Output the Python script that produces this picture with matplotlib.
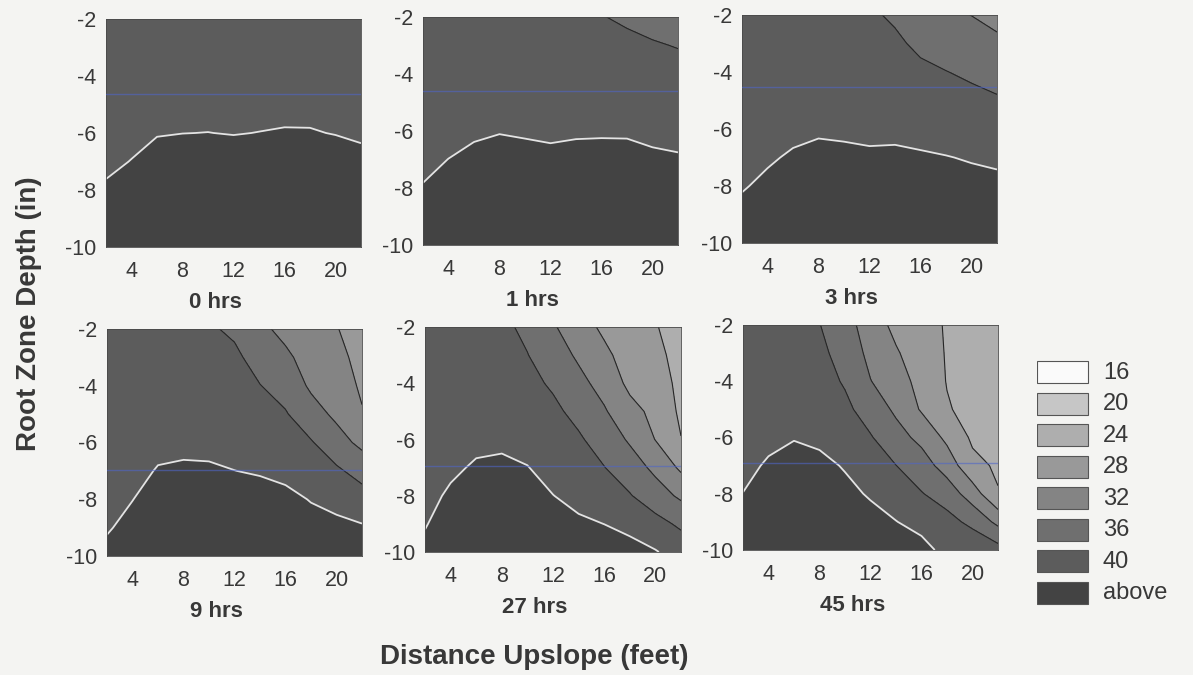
import numpy as np
import matplotlib.pyplot as plt
from matplotlib.patches import Rectangle

plt.rcParams['font.family'] = ['Liberation Sans', 'DejaVu Sans']
plt.rcParams['axes.unicode_minus'] = False

# grid: distance upslope (feet) across, root zone depth (in) down
distance = [2, 4, 6, 8, 10, 12, 14, 16, 18, 20, 22]
depth = [-2, -3, -4, -5, -6, -7, -8, -9, -10]

# contour classes and their grey fills
levels = [0, 16, 20, 24, 28, 32, 36, 40, 60]
level_labels = ['16', '20', '24', '28', '32', '36', '40', 'above']
shades = ['#fafafa', '#c6c6c6', '#aeaeae', '#999999',
          '#848484', '#6f6f6f', '#5c5c5c', '#434343']

# one list per distance column, values from -2 in down to -10 in
hrs_0 = [
    [36.6, 37.2, 37.8, 38.4, 39.0, 39.6, 40.25, 41.4, 42.4],
    [37.1, 37.7, 38.3, 38.9, 39.5, 40.05, 41.1, 42.1, 43.1],
    [37.5, 38.1, 38.7, 39.3, 39.9, 40.65, 41.7, 42.7, 43.7],
    [37.6, 38.2, 38.8, 39.4, 39.98, 41.0, 42.0, 43.0, 44.0],
    [37.6, 38.2, 38.8, 39.4, 40.02, 41.0, 42.0, 43.0, 44.0],
    [37.6, 38.2, 38.8, 39.4, 39.93, 40.9, 41.9, 42.9, 43.9],
    [37.6, 38.2, 38.8, 39.4, 40.03, 41.0, 42.0, 43.0, 44.0],
    [37.8, 38.4, 39.0, 39.6, 40.1, 41.1, 42.1, 43.1, 44.1],
    [37.8, 38.4, 39.0, 39.55, 40.1, 41.1, 42.1, 43.1, 44.1],
    [37.5, 38.1, 38.7, 39.3, 39.94, 40.8, 41.8, 42.8, 43.8],
    [37.4, 38.0, 38.6, 39.2, 39.75, 40.45, 41.45, 42.45, 43.45],
]
hrs_1 = [
    [37.0, 37.5, 38.0, 38.5, 39.0, 39.55, 40.1, 41.1, 42.1],
    [37.2, 37.7, 38.3, 38.9, 39.4, 40.02, 41.0, 42.0, 43.0],
    [37.3, 37.9, 38.5, 39.1, 39.75, 40.4, 41.4, 42.4, 43.4],
    [37.4, 38.0, 38.6, 39.2, 39.9, 40.8, 41.8, 42.8, 43.8],
    [37.3, 37.9, 38.5, 39.1, 39.8, 40.55, 41.5, 42.5, 43.5],
    [37.1, 37.7, 38.4, 39.0, 39.7, 40.4, 41.4, 42.4, 43.4],
    [36.6, 37.4, 38.2, 39.0, 39.8, 40.5, 41.5, 42.5, 43.5],
    [36.1, 37.1, 38.0, 38.9, 39.8, 40.6, 41.6, 42.6, 43.6],
    [35.6, 36.6, 37.6, 38.7, 39.8, 40.55, 41.5, 42.5, 43.5],
    [35.2, 36.2, 37.3, 38.5, 39.6, 40.3, 41.3, 42.3, 43.3],
    [35.0, 35.9, 36.8, 38.1, 39.4, 40.2, 41.2, 42.2, 43.2],
]
hrs_3 = [
    [36.3, 36.9, 37.5, 38.1, 38.7, 39.3, 39.8, 40.7, 41.7],
    [36.6, 37.2, 37.8, 38.4, 39.0, 39.7, 40.5, 41.5, 42.5],
    [37.0, 37.6, 38.2, 38.8, 39.4, 40.3, 41.3, 42.3, 43.3],
    [37.2, 37.8, 38.4, 39.0, 39.7, 40.6, 41.6, 42.6, 43.6],
    [37.0, 37.6, 38.2, 38.8, 39.6, 40.5, 41.5, 42.5, 43.5],
    [36.5, 37.2, 37.9, 38.6, 39.55, 40.3, 41.3, 42.3, 43.3],
    [35.5, 36.6, 37.4, 38.2, 39.5, 40.4, 41.4, 42.4, 43.4],
    [33.8, 35.3, 36.7, 37.9, 39.15, 40.3, 41.3, 42.3, 43.3],
    [32.7, 34.4, 36.08, 37.4, 38.75, 40.1, 41.1, 42.1, 43.1],
    [31.95, 33.7, 35.4, 36.93, 38.36, 39.79, 40.85, 41.85, 42.85],
    [30.9, 32.74, 34.6, 36.38, 37.9, 39.42, 40.8, 41.8, 42.8],
]
hrs_9 = [
    [36.2, 36.6, 37.0, 37.5, 38.0, 38.5, 39.0, 39.75, 40.75],
    [36.5, 36.9, 37.4, 37.9, 38.5, 39.1, 39.95, 40.8, 41.7],
    [36.9, 37.4, 37.9, 38.5, 39.2, 40.2, 41.1, 42.0, 43.0],
    [37.0, 37.6, 38.2, 38.8, 39.45, 40.35, 41.3, 42.3, 43.3],
    [36.5, 37.1, 37.8, 38.5, 39.4, 40.3, 41.4, 42.4, 43.4],
    [35.3, 36.8, 37.6, 38.4, 39.2, 40.02, 41.0, 42.0, 43.0],
    [32.8, 34.4, 36.1, 37.2, 38.5, 39.8, 40.9, 41.9, 42.9],
    [31.0, 32.7, 34.5, 36.3, 37.8, 39.2, 40.8, 41.8, 42.8],
    [29.5, 30.5, 31.4, 33.6, 36.3, 38.1, 39.85, 41.1, 42.1],
    [28.2, 29.2, 30.2, 31.2, 33.6, 36.6, 38.8, 41.0, 42.0],
    [26.0, 26.7, 27.4, 28.3, 31.0, 34.6, 37.6, 40.4, 41.6],
]
hrs_27 = [
    [36.1, 36.5, 37.0, 37.5, 38.0, 38.5, 39.0, 39.8, 40.8],
    [36.3, 36.8, 37.3, 37.9, 38.5, 39.4, 40.5, 41.5, 42.3],
    [36.6, 37.2, 37.8, 38.4, 39.2, 40.4, 41.4, 42.3, 43.1],
    [36.8, 37.4, 38.0, 38.6, 39.4, 40.6, 41.6, 42.6, 43.4],
    [35.2, 36.1, 37.0, 37.9, 38.9, 40.1, 41.2, 42.2, 43.0],
    [32.4, 33.9, 35.5, 36.8, 37.8, 38.9, 40.05, 41.1, 42.1],
    [29.8, 31.4, 33.1, 34.9, 36.5, 37.8, 39.1, 40.5, 41.5],
    [27.2, 28.9, 30.6, 32.4, 34.3, 36.1, 38.0, 39.98, 41.5],
    [25.6, 26.2, 27.1, 29.25, 31.5, 33.9, 36.25, 38.9, 41.4],
    [24.3, 25.2, 26.1, 27.0, 27.9, 31.1, 33.8, 37.3, 40.25],
    [21.8, 22.4, 22.9, 23.3, 24.1, 27.3, 31.3, 35.3, 38.4],
]
hrs_45 = [
    [36.4, 36.9, 37.4, 37.9, 38.5, 39.1, 40.05, 41.1, 42.0],
    [36.8, 37.3, 37.9, 38.5, 39.2, 40.4, 41.6, 42.6, 43.4],
    [37.0, 37.6, 38.3, 39.0, 39.8, 41.5, 42.7, 43.6, 44.3],
    [36.1, 36.9, 37.6, 38.3, 39.2, 41.0, 42.2, 43.2, 44.0],
    [33.6, 34.5, 35.6, 36.9, 38.3, 39.7, 41.0, 42.2, 43.2],
    [30.0, 31.0, 32.1, 34.2, 36.3, 37.9, 39.6, 41.3, 42.8],
    [27.0, 28.4, 29.9, 31.35, 33.4, 36.05, 38.0, 40.1, 42.0],
    [25.3, 25.9, 26.6, 27.6, 31.0, 33.8, 36.2, 38.7, 41.3],
    [23.7, 23.75, 23.85, 24.3, 27.1, 30.3, 34.2, 37.3, 38.8],
    [21.5, 22.0, 22.5, 22.9, 23.4, 25.0, 30.0, 35.0, 39.0],
    [21.2, 21.7, 22.2, 22.6, 23.0, 23.5, 24.2, 31.0, 37.5],
]

titles = ['0 hrs', '1 hrs', '3 hrs', '9 hrs', '27 hrs', '45 hrs']
fields = [hrs_0, hrs_1, hrs_3, hrs_9, hrs_27, hrs_45]
# faint blue streak running across each panel
streak = [-4.62, -4.61, -4.52, -6.97, -6.93, -6.90]

W, H = 1193, 675
# panel boxes in pixels: left, top, right, bottom
boxes = [(106, 19, 361, 247), (423, 17, 678, 245), (742, 15, 997, 243),
         (107, 329, 362, 556), (425, 327, 681, 552), (743, 325, 998, 550)]

ink = '#383838'

fig = plt.figure(figsize=(W / 100, H / 100), dpi=100)
fig.patch.set_facecolor('#f4f4f2')

X, Y = np.meshgrid(distance, depth)

for title, cols, (l, t, r, b), yb in zip(titles, fields, boxes, streak):
    ax = fig.add_axes([l / W, 1 - b / H, (r - l) / W, (b - t) / H])
    Z = np.array(cols).T
    ax.contourf(X, Y, Z, levels=levels, colors=shades)
    ax.contour(X, Y, Z, levels=levels[1:-2], colors='#262626', linewidths=0.8)
    ax.contour(X, Y, Z, levels=[40], colors='#e4e4e4', linewidths=1.3)
    ax.axhline(yb, color='#4f66c8', lw=1.0, alpha=0.6, zorder=3)

    ax.set_xlim(2, 22)
    ax.set_ylim(-10, -2)
    ax.set_xticks([4, 8, 12, 16, 20])
    ax.set_yticks([-2, -4, -6, -8, -10])
    ax.tick_params(length=0, labelsize=15.5, colors=ink)
    ax.tick_params(axis='x', pad=10)
    ax.tick_params(axis='y', pad=7)
    for s in ax.spines.values():
        s.set_color('#4a4a4a')
        s.set_linewidth(0.6)
    ax.text(0.43, -0.245, title, transform=ax.transAxes, ha='center',
            va='center', fontsize=16, fontweight='bold', color=ink)

fig.text(0.448, 0.027, 'Distance Upslope (feet)', ha='center', va='center',
         fontsize=20, fontweight='bold', color=ink)
fig.text(0.024, 0.536, 'Root Zone Depth (in)', ha='center', va='center',
         rotation=90, fontsize=20, fontweight='bold', color=ink)

# legend of the contour classes
lg = fig.add_axes([1037 / W, 1 - 609 / H, 153 / W, 252 / H])
lg.set_xlim(0, 1)
lg.set_ylim(len(level_labels), 0)
lg.axis('off')
for i, (lab, c) in enumerate(zip(level_labels, shades)):
    lg.add_patch(Rectangle((0, i + 0.14), 0.333, 0.7, facecolor=c,
                           edgecolor='#555555', linewidth=0.8))
    lg.text(0.43, i + 0.5, lab, ha='left', va='center', fontsize=17, color=ink)

plt.savefig('out.png', dpi=100, facecolor=fig.get_facecolor())
